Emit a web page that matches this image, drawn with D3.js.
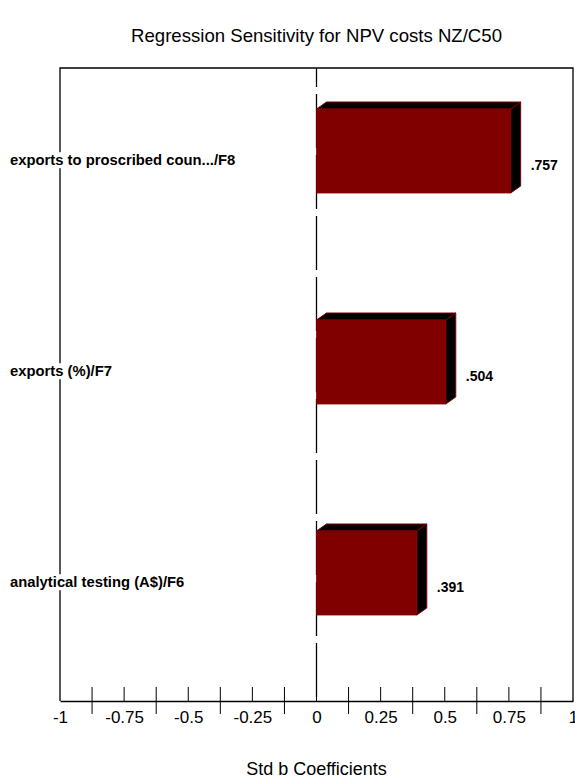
<!DOCTYPE html>
<html>
<head>
<meta charset="utf-8">
<script src="https://cdn.jsdelivr.net/npm/d3@7/dist/d3.min.js"></script>
<style>
  html, body { margin: 0; padding: 0; background: #fff; }
  svg { display: block; font-family: "Liberation Sans", Arial, sans-serif; }
</style>
</head>
<body>
<svg id="chart" width="575" height="779"></svg>
<script>
// Regression sensitivity: standardized b coefficients per input
const categories = [
  "exports to proscribed coun.../F8",
  "exports (%)/F7",
  "analytical testing (A$)/F6"
];
const coefficients = [0.757, 0.504, 0.391];
const valueLabels = [".757", ".504", ".391"];
const tickValues = [-1, -0.75, -0.5, -0.25, 0, 0.25, 0.5, 0.75, 1];
const tickLabels = ["-1", "-0.75", "-0.5", "-0.25", "0", "0.25", "0.5", "0.75", "1"];
const minorTicks = [-0.875, -0.625, -0.375, -0.125, 0.125, 0.375, 0.625, 0.875];

const titleText = "Regression Sensitivity for NPV costs NZ/C50";
const axisTitle = "Std b Coefficients";

const svg = d3.select("#chart");
const frame = { left: 60, right: 573, top: 68, bottom: 701 };

const x = d3.scaleLinear().domain([-1, 1]).range([frame.left, frame.right]);
const y = d3.scaleBand().domain(categories).range([frame.top, frame.bottom]);

const depth = { dx: 10, dy: -7 };
const barTop = 41, barHeight = 84;
const front = "#800000";

// title
svg.append("text")
  .attr("x", x(0)).attr("y", 42)
  .attr("text-anchor", "middle")
  .attr("font-size", 18.6)
  .attr("fill", "#000")
  .text(titleText);

// frame: top, right, left
svg.append("path")
  .attr("d", `M${frame.left},${frame.bottom}V${frame.top}H${frame.right}V${frame.bottom}`)
  .attr("fill", "none").attr("stroke", "#000").attr("stroke-width", 1.3);

// zero reference line (dashed)
svg.append("line")
  .attr("x1", x(0)).attr("x2", x(0))
  .attr("y1", frame.top).attr("y2", frame.bottom)
  .attr("stroke", "#000").attr("stroke-width", 1.3)
  .attr("stroke-dasharray", "54,7").attr("stroke-dashoffset", 35);

// bottom axis
const axis = d3.axisBottom(x)
  .tickValues(tickValues)
  .tickFormat((d, i) => tickLabels[i])
  .tickSize(0).tickPadding(10);
const gx = svg.append("g")
  .attr("transform", `translate(0,${frame.bottom})`)
  .call(axis);
gx.select(".domain").attr("stroke", "#000").attr("stroke-width", 1.3);
gx.selectAll(".tick text").attr("font-size", 17).attr("fill", "#000")
  .attr("font-family", "Liberation Sans, Arial, sans-serif");

// major ticks above the axis line
svg.append("g").selectAll("line").data(tickValues.slice(1, -1)).join("line")
  .attr("x1", d => x(d)).attr("x2", d => x(d))
  .attr("y1", frame.bottom - 14).attr("y2", frame.bottom)
  .attr("stroke", "#000").attr("stroke-width", 1);
// minor ticks crossing the axis line
svg.append("g").selectAll("line").data(minorTicks).join("line")
  .attr("x1", d => x(d)).attr("x2", d => x(d))
  .attr("y1", frame.bottom - 14).attr("y2", frame.bottom + 13)
  .attr("stroke", "#000").attr("stroke-width", 1);

// axis title
svg.append("text")
  .attr("x", x(0)).attr("y", 775)
  .attr("text-anchor", "middle")
  .attr("font-size", 18)
  .attr("fill", "#000")
  .text(axisTitle);

// 3D bars
const rows = categories.map((c, i) => ({ c, v: coefficients[i], label: valueLabels[i] }));
const bars = svg.append("g").selectAll("g").data(rows).join("g");

bars.each(function (d) {
  const g = d3.select(this);
  const x0 = x(0), x1 = x(d.v);
  const y0 = y(d.c) + barTop, y1 = y0 + barHeight;
  // top face
  g.append("path")
    .attr("d", `M${x0},${y0}L${x0 + depth.dx},${y0 + depth.dy}L${x1 + depth.dx},${y0 + depth.dy}L${x1},${y0}Z`)
    .attr("fill", "#000").attr("stroke", front).attr("stroke-width", 1);
  // side face
  g.append("path")
    .attr("d", `M${x1},${y0}L${x1 + depth.dx},${y0 + depth.dy}L${x1 + depth.dx},${y1 + depth.dy}L${x1},${y1}Z`)
    .attr("fill", "#000").attr("stroke", front).attr("stroke-width", 1);
  // front face
  g.append("rect")
    .attr("x", x0).attr("y", y0)
    .attr("width", x1 - x0).attr("height", barHeight)
    .attr("fill", front).attr("stroke", front).attr("stroke-width", 0.8);
  // value label
  g.append("text")
    .attr("x", x1 + depth.dx + 10).attr("y", y0 + barHeight / 2 + 19)
    .attr("font-size", 14).attr("font-weight", "bold").attr("fill", "#000")
    .text(d.label);
});

// category labels with white backing over the frame line
const catG = svg.append("g").selectAll("g").data(categories).join("g")
  .attr("transform", d => `translate(10,${y(d) + 92})`);
catG.append("text")
  .attr("dy", "0.35em")
  .attr("font-size", 14.8).attr("font-weight", "bold").attr("fill", "#000")
  .text(d => d);
catG.each(function () {
  const g = d3.select(this);
  const bb = g.select("text").node().getBBox();
  g.insert("rect", "text")
    .attr("x", bb.x - 1).attr("y", bb.y)
    .attr("width", bb.width + 2).attr("height", bb.height)
    .attr("fill", "#fff");
});
</script>
</body>
</html>
